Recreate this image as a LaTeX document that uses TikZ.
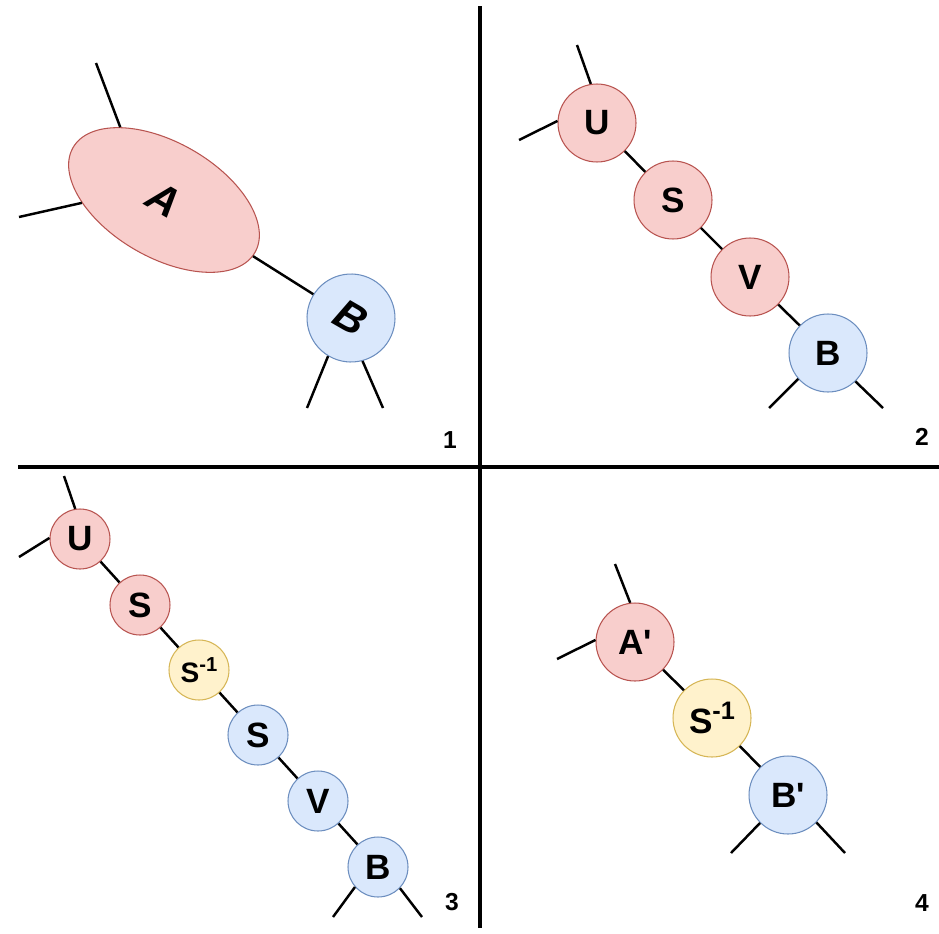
\documentclass[tikz,border=0pt]{standalone}
\usepackage{fontspec}
\setmainfont{Liberation Sans}
\usetikzlibrary{shapes.geometric}
\definecolor{RedFill}{HTML}{F8CECC}
\definecolor{RedLine}{HTML}{B85450}
\definecolor{BlueFill}{HTML}{DAE8FC}
\definecolor{BlueLine}{HTML}{6C8EBF}
\definecolor{YellowFill}{HTML}{FFF2CC}
\definecolor{YellowLine}{HTML}{D6B656}
\newcommand{\Sinv}{S\raisebox{0.4em}{\scalebox{0.72}{-1}}}

\begin{document}
\begin{tikzpicture}[x=0.02cm,y=-0.02cm,
    tn/.style={circle,draw,line width=0.6pt,inner sep=0pt,font=\fontsize{20}{24}\selectfont\bfseries},
    bigc/.style={minimum size=1.56cm},
    smallc/.style={minimum size=1.2cm},
    rednode/.style={draw=RedLine,fill=RedFill},
    bluenode/.style={draw=BlueLine,fill=BlueFill},
    yellownode/.style={draw=YellowLine,fill=YellowFill},
    leg/.style={line width=1.4pt},
    divider/.style={line width=1.8pt},
    num/.style={font=\fontsize{14}{16}\selectfont\bfseries}]
    \useasboundingbox (0,0) rectangle (939,933);
    % quadrant borders
    \draw[divider] (480,6) -- (480,928);
    \draw[divider] (18,467) -- (939,467);
    % 1
    \node[ellipse,rednode,line width=0.6pt,minimum width=4.2cm,minimum height=2.3cm,rotate=-30,
      font=\fontsize{24}{28}\selectfont\bfseries\itshape] (a1) at (164,200) {A};
    \node[tn,bluenode,minimum size=1.76cm,rotate=-30,font=\fontsize{24}{28}\selectfont\bfseries\itshape] (b1) at (351,318) {B};
    \coordinate (a1top) at (96,63);
    \coordinate (a1left) at (19,217);
    \coordinate (b1l) at (307,408);
    \coordinate (b1r) at (383,408);
    \draw[leg] (a1) -- (b1);
    \draw[leg] (a1.151) -- (a1top);
    \draw[leg] (a1.212) -- (a1left);
    \draw[leg] (b1.269) -- (b1l);
    \draw[leg] (b1.315) -- (b1r);
    \node[num] (n1) at (450,440) {1};
    % 2
    \node[tn,bigc,rednode] (u2) at (597,123) {U};
    \node[tn,bigc,rednode] (s2) at (673,200) {S};
    \node[tn,bigc,rednode] (v2) at (750,277) {V};
    \node[tn,bigc,bluenode] (b2) at (828,353) {B};
    \coordinate (u2top) at (577,45);
    \coordinate (u2left) at (519,140);
    \coordinate (b2l) at (769,408);
    \coordinate (b2r) at (883,408);
    \foreach \p/\q in {u2/s2,s2/v2,v2/b2}
      \draw[leg] (\p) -- (\q);
    \draw[leg] (u2.99) -- (u2top);
    \draw[leg] (u2.177) -- (u2left);
    \draw[leg] (b2.221) -- (b2l);
    \draw[leg] (b2.314) -- (b2r);
    \node[num] (n2) at (922,437) {2};
    % 3
    \node[tn,smallc,rednode] (u3) at (80,539) {U};
    \node[tn,smallc,rednode] (s3) at (140,605) {S};
    \node[tn,smallc,yellownode,font=\fontsize{16}{18}\selectfont\bfseries] (si3) at (199,670) {\Sinv};
    \node[tn,smallc,bluenode] (t3) at (258,735) {S};
    \node[tn,smallc,bluenode] (v3) at (318,801) {V};
    \node[tn,smallc,bluenode] (b3) at (378,867) {B};
    \coordinate (u3top) at (64,476);
    \coordinate (u3left) at (19,557);
    \coordinate (b3l) at (333,917);
    \coordinate (b3r) at (422,917);
    \foreach \p/\q in {u3/s3,s3/si3,si3/t3,t3/v3,v3/b3}
      \draw[leg] (\p) -- (\q);
    \draw[leg] (u3.99) -- (u3top);
    \draw[leg] (u3.178) -- (u3left);
    \draw[leg] (b3.221) -- (b3l);
    \draw[leg] (b3.316) -- (b3r);
    \node[num] (n3) at (452,902) {3};
    % 4
    \node[tn,bigc,rednode] (a4) at (635,642) {A\textquotesingle};
    \node[tn,bigc,yellownode] (si4) at (712,718) {\Sinv};
    \node[tn,bigc,bluenode] (b4) at (788,795) {B\textquotesingle};
    \coordinate (a4top) at (615,564);
    \coordinate (a4left) at (557,659);
    \coordinate (b4l) at (731,853);
    \coordinate (b4r) at (845,853);
    \foreach \p/\q in {a4/si4,si4/b4}
      \draw[leg] (\p) -- (\q);
    \draw[leg] (a4.97) -- (a4top);
    \draw[leg] (a4.177) -- (a4left);
    \draw[leg] (b4.225) -- (b4l);
    \draw[leg] (b4.316) -- (b4r);
    \node[num] (n4) at (922,903) {4};
\end{tikzpicture}
\end{document}
